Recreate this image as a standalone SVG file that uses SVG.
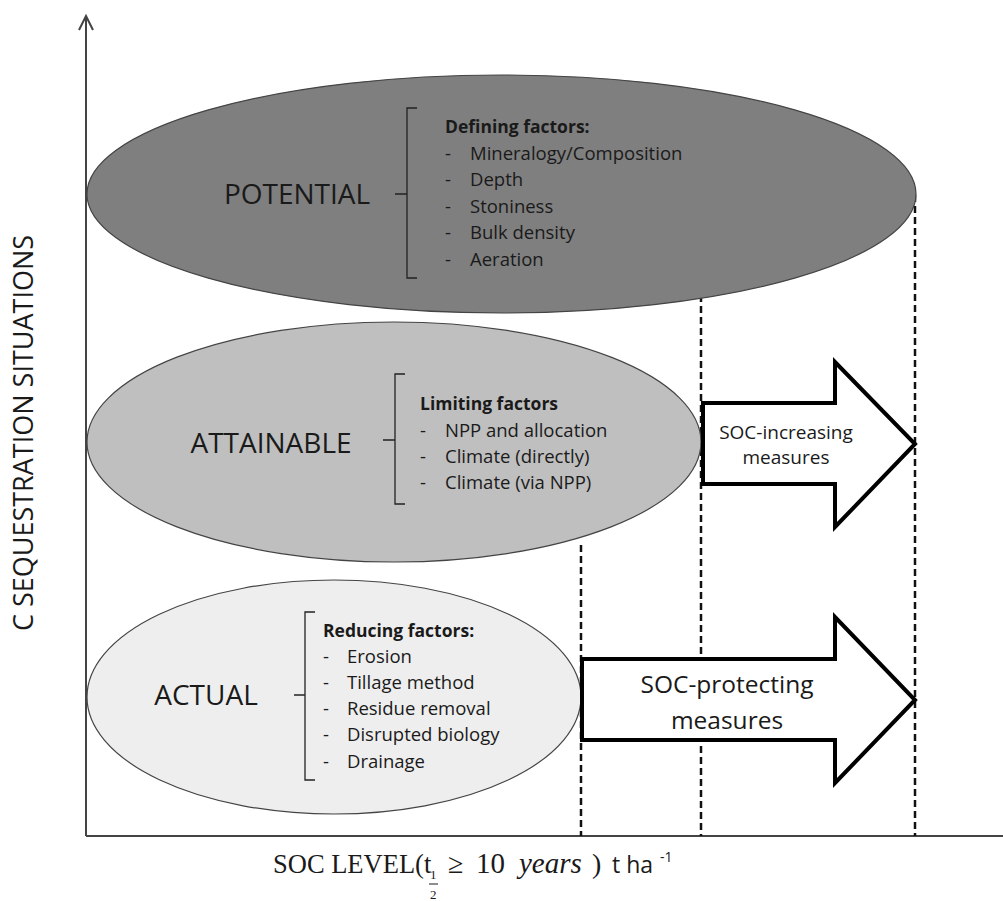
<svg xmlns="http://www.w3.org/2000/svg" width="1003" height="901" viewBox="0 0 1003 901">
<style>
.sans{font-family:"Open Sans","Liberation Sans",sans-serif;fill:#1a1a1a}
.serif{font-family:"Liberation Serif",serif;fill:#1a1a1a}
.lbl{font-size:28px}
.hd{font-size:17.5px;font-weight:bold}
.it{font-size:18.5px}
.br{fill:none;stroke:#222;stroke-width:1.3}
.dash{stroke:#111;stroke-width:2.5;stroke-dasharray:7 4;fill:none}
.arr{fill:#fff;stroke:#000;stroke-width:4;stroke-linejoin:miter}
.ell{stroke:#444;stroke-width:1.2}
.ax{stroke:#444;stroke-width:2;fill:none}
</style>
<rect width="1003" height="901" fill="#fff"/>
<g id="axes">
<line class="ax" x1="86" y1="16" x2="86" y2="836"/>
<polyline class="ax" points="79,30 86,16 93,30" stroke-width="1.6"/>
<line class="ax" x1="86" y1="836" x2="1003" y2="836"/>
<text class="sans" font-size="27" transform="translate(33,433) rotate(-90)" text-anchor="middle">C SEQUESTRATION SITUATIONS</text>
<g id="xlabel">
<text x="273" y="873" class="serif" font-size="26.5">SOC LEVEL(t</text>
<text x="430" y="879" class="serif" font-size="13">1</text>
<line x1="429" y1="884" x2="438" y2="884" stroke="#1a1a1a" stroke-width="1"/>
<text x="430" y="899" class="serif" font-size="13">2</text>
<text x="448" y="873" class="serif" font-size="28">≥</text>
<text x="476" y="873" class="serif" font-size="29">10</text>
<text x="519" y="873" class="serif" font-size="29" font-style="italic">years</text>
<text x="592" y="873" class="serif" font-size="28">)</text>
<text x="612" y="873" class="sans" font-size="23">t ha</text>
<text x="660" y="862" class="sans" font-size="14">-1</text>
</g>
</g>
<g id="connectors">
<line class="dash" x1="581" y1="545" x2="581" y2="836"/>
<line class="dash" x1="701" y1="295" x2="701" y2="836"/>
<line class="dash" x1="915" y1="195" x2="915" y2="836"/>
</g>
<g id="potential">
<ellipse class="ell" cx="501.5" cy="194" rx="414.5" ry="119" fill="#7f7f7f"/>
<text class="sans lbl" x="297" y="204" text-anchor="middle">POTENTIAL</text>
<path class="br" d="M417,108 H407 V278 H417 M407,194 H395"/>
<text class="sans hd" x="445" y="133">Defining factors:</text>
<g class="sans it">
<text x="445" y="160">-</text><text x="470" y="160">Mineralogy/Composition</text>
<text x="445" y="186">-</text><text x="470" y="186">Depth</text>
<text x="445" y="213">-</text><text x="470" y="213">Stoniness</text>
<text x="445" y="239">-</text><text x="470" y="239">Bulk density</text>
<text x="445" y="266">-</text><text x="470" y="266">Aeration</text>
</g>
</g>
<g id="attainable">
<ellipse class="ell" cx="394" cy="442" rx="307" ry="120" fill="#bfbfbf"/>
<text class="sans lbl" x="271" y="453" text-anchor="middle">ATTAINABLE</text>
<path class="br" d="M405,374 H395 V504 H405 M395,440 H383"/>
<text class="sans hd" x="420" y="410">Limiting factors</text>
<g class="sans it">
<text x="420" y="437">-</text><text x="445" y="437">NPP and allocation</text>
<text x="420" y="463">-</text><text x="445" y="463">Climate (directly)</text>
<text x="420" y="489">-</text><text x="445" y="489">Climate (via NPP)</text>
</g>
</g>
<g id="actual">
<ellipse class="ell" cx="334" cy="697" rx="247" ry="117" fill="#eeeeee"/>
<text class="sans lbl" x="206" y="705" text-anchor="middle">ACTUAL</text>
<path class="br" d="M315,612 H305 V780 H315 M305,695 H294"/>
<text class="sans hd" x="323" y="637">Reducing factors:</text>
<g class="sans it">
<text x="323" y="663">-</text><text x="347" y="663">Erosion</text>
<text x="323" y="689">-</text><text x="347" y="689">Tillage method</text>
<text x="323" y="715">-</text><text x="347" y="715">Residue removal</text>
<text x="323" y="741">-</text><text x="347" y="741">Disrupted biology</text>
<text x="323" y="768">-</text><text x="347" y="768">Drainage</text>
</g>
</g>
<g id="soc-increasing">
<polygon class="arr" points="703,403 835,403 835,362 915,444 835,527 835,484 703,484"/>
<text class="sans" font-size="19" x="786" y="439" text-anchor="middle">SOC-increasing</text>
<text class="sans" font-size="19" x="786" y="464" text-anchor="middle">measures</text>
</g>
<g id="soc-protecting">
<polygon class="arr" points="582,659 835,659 835,617 915,700 835,783 835,740 582,740"/>
<text class="sans" font-size="24.5" x="727" y="693" text-anchor="middle">SOC-protecting</text>
<text class="sans" font-size="24.5" x="727" y="729" text-anchor="middle">measures</text>
</g>
</svg>
